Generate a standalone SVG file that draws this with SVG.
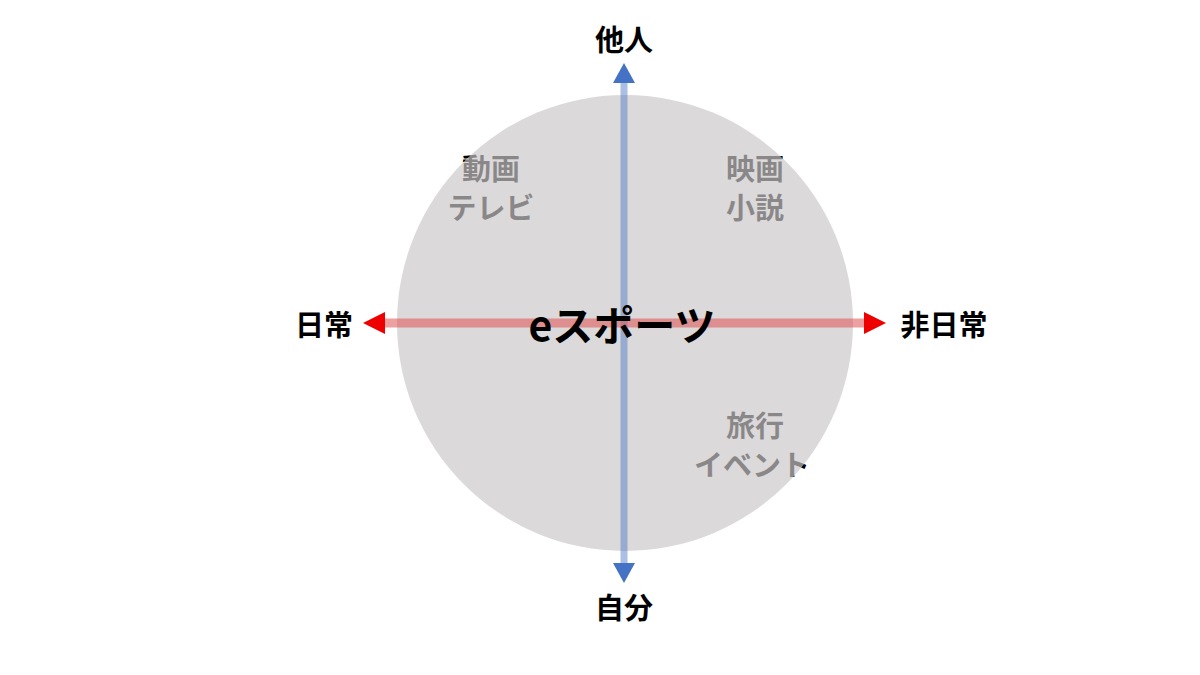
<svg xmlns="http://www.w3.org/2000/svg" width="1200" height="675" viewBox="0 0 1200 675">
<style>
.lbl{font-family:"Noto Sans CJK JP","Noto Sans CJK SC",sans-serif;font-weight:bold;font-size:29px;fill:#000;text-anchor:middle;dominant-baseline:central}
.cat{font-family:"Noto Sans CJK JP","Noto Sans CJK SC",sans-serif;font-weight:bold;font-size:29px;fill:#000;text-anchor:middle;dominant-baseline:central}
.main{font-family:"Noto Sans CJK JP","Noto Sans CJK SC",sans-serif;font-weight:bold;font-size:41px;fill:#000;text-anchor:middle;dominant-baseline:central}
</style>
<rect width="1200" height="675" fill="#fff"/>
<g id="categories">
<text class="cat" x="491" y="167">動画</text>
<text class="cat" x="491" y="206">テレビ</text>
<text class="cat" x="755" y="167">映画</text>
<text class="cat" x="755" y="206">小説</text>
<text class="cat" x="755" y="424">旅行</text>
<text class="cat" x="752" y="463">イベント</text>
</g>
<g id="circle">
<circle cx="625" cy="323" r="228" fill="#cac7c8" fill-opacity="0.68"/>
</g>
<g id="connectors">
<line x1="624" y1="80" x2="624" y2="565" stroke="#4472c4" stroke-opacity="0.45" stroke-width="7"/>
<polygon points="624,63 613,83 635,83" fill="#4472c4"/>
<polygon points="624,583 613,563 635,563" fill="#4472c4"/>
<line x1="383" y1="323" x2="866" y2="323" stroke="#e05050" stroke-opacity="0.55" stroke-width="9"/>
<polygon points="363,323 385,312 385,334" fill="#ee0000"/>
<polygon points="886,323 864,312 864,334" fill="#ee0000"/>
</g>
<g id="labels">
<text class="lbl" x="624" y="38">他人</text>
<text class="lbl" x="324" y="323">日常</text>
<text class="lbl" x="944" y="323">非日常</text>
<text class="lbl" x="624" y="606">自分</text>
</g>
<g id="center">
<text class="main" x="622" y="323">eスポーツ</text>
</g>
</svg>
